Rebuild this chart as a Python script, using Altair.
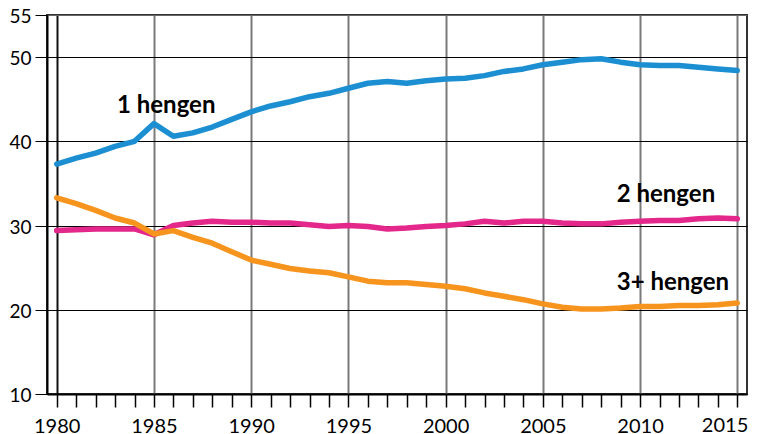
import altair as alt
import pandas as pd

years = list(range(1980, 2016))

one_person = [37.3, 38.0, 38.6, 39.4, 40.0, 42.1, 40.6, 41.0, 41.7, 42.6,
              43.5, 44.2, 44.7, 45.3, 45.7, 46.3, 46.9, 47.1, 46.9, 47.2,
              47.4, 47.5, 47.8, 48.3, 48.6, 49.1, 49.4, 49.7, 49.8, 49.4,
              49.1, 49.0, 49.0, 48.8, 48.6, 48.4]

two_person = [29.4, 29.5, 29.6, 29.6, 29.6, 28.9, 30.0, 30.3, 30.5, 30.4,
              30.4, 30.3, 30.3, 30.1, 29.9, 30.0, 29.9, 29.6, 29.7, 29.9,
              30.0, 30.2, 30.5, 30.3, 30.5, 30.5, 30.3, 30.2, 30.2, 30.4,
              30.5, 30.6, 30.6, 30.8, 30.9, 30.8]

three_plus = [33.3, 32.6, 31.8, 30.9, 30.3, 29.0, 29.4, 28.6, 27.9, 26.9,
              25.9, 25.4, 24.9, 24.6, 24.4, 23.9, 23.4, 23.2, 23.2, 23.0,
              22.8, 22.5, 22.0, 21.6, 21.2, 20.7, 20.3, 20.1, 20.1, 20.2,
              20.4, 20.4, 20.5, 20.5, 20.6, 20.8]

series_names = ["1 hengen", "2 hengen", "3+ hengen"]
series_colors = ["#1b8fd2", "#e3278b", "#f7941e"]

label_text = ["1 hengen", "2 hengen", "3+ hengen"]
label_year = [1983.1, 2008.8, 2008.8]
label_value = [43.4, 32.8, 22.3]

y_ticks = [10, 20, 30, 40, 50, 55]
last_year_label = ["2015"]
last_year = [2015]
y_min = [10]

rows = []
for name, vals in zip(series_names, [one_person, two_person, three_plus]):
    for yr, v in zip(years, vals):
        rows.append({"year": yr, "value": v, "series": name})
df = pd.DataFrame(rows)

labels_df = pd.DataFrame({"text": label_text, "year": label_year, "value": label_value})
last_df = pd.DataFrame({"text": last_year_label, "year": last_year, "value": y_min})

FONT = "Lato"

x_scale = alt.Scale(domain=[1979.5, 2015.5], nice=False, zero=False)
y_scale = alt.Scale(domain=[10, 55], nice=False, zero=False)

x_axis = alt.Axis(
    values=years,
    format="d",
    labelExpr="(datum.value % 5 === 0 && datum.value !== 2015) ? datum.label : ''",
    labelOverlap=False,
    labelFont=FONT,
    labelFontSize=20,
    labelColor="#000",
    labelPadding=9,
    tickSize=13,
    tickColor="#000",
    tickWidth=1.5,
    domainColor="#000",
    domainWidth=2,
    grid=True,
    gridColor={"condition": [
                   {"test": "datum.value === 1980", "value": "#111"},
                   {"test": "datum.value % 5 === 0", "value": "#7a7a7a"}],
               "value": "transparent"},
    gridWidth=2,
    gridOpacity=1,
    title=None,
)

y_axis = alt.Axis(
    values=y_ticks,
    labelFont=FONT,
    labelFontSize=19,
    labelColor="#000",
    labelPadding=4,
    labelOffset=1.5,
    tickSize=12,
    tickColor="#000",
    tickWidth=1,
    domainColor="#000",
    domainWidth=2,
    grid=True,
    gridColor={"condition": {"test": "datum.value === 55", "value": "#666"},
               "value": "#000"},
    gridWidth=1,
    gridOpacity=1,
    title=None,
)

x_enc = alt.X("year:Q", scale=x_scale, axis=x_axis)
y_enc = alt.Y("value:Q", scale=y_scale, axis=y_axis)

lines = alt.Chart(df).mark_line(strokeWidth=5.5, strokeCap="round", strokeJoin="round").encode(
    x=x_enc,
    y=y_enc,
    color=alt.Color("series:N", scale=alt.Scale(domain=series_names, range=series_colors), legend=None),
    detail="series:N",
)

texts = alt.Chart(labels_df).mark_text(
    font=FONT, fontSize=24, fontWeight="bold", align="left", baseline="alphabetic", color="#000"
).encode(
    x=x_enc,
    y=y_enc,
    text="text:N",
)

last_label = alt.Chart(last_df).mark_text(
    font=FONT, fontSize=20, align="right", baseline="top", dx=11, dy=22, color="#000"
).encode(
    x=x_enc,
    y=y_enc,
    text="text:N",
)

chart = alt.layer(lines, texts, last_label).properties(
    width=700,
    height=379,
    autosize=alt.AutoSizeParams(type="none"),
    padding={"left": 39, "top": 7, "right": 2, "bottom": 40},
).configure_view(stroke="#333", strokeWidth=2)

chart.save("out.html", embed_options={"renderer": "svg", "actions": False})
